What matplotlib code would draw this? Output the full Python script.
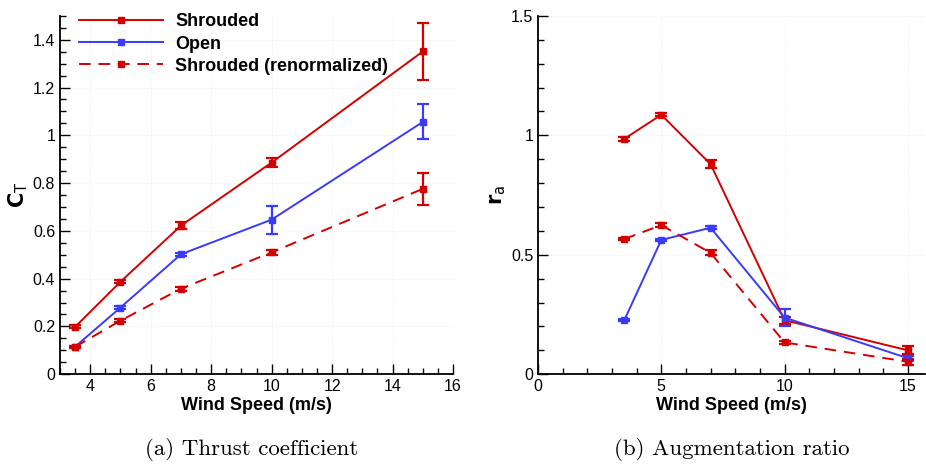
import numpy as np
import matplotlib
matplotlib.use('Agg')
import matplotlib.pyplot as plt
from matplotlib.lines import Line2D
from matplotlib.ticker import MultipleLocator, FuncFormatter

plt.rcParams['font.family'] = ['Liberation Sans', 'DejaVu Sans']

# wind speeds
ws = [3.5, 5, 7, 10, 15]

# (a) thrust coefficient
ct_shroud = [0.198, 0.387, 0.622, 0.886, 1.351]
ct_shroud_err = [0.006, 0.007, 0.013, 0.018, 0.118]
ct_open = [0.115, 0.279, 0.502, 0.647, 1.056]
ct_open_err = [0.005, 0.008, 0.007, 0.059, 0.073]
ct_renorm = [0.115, 0.224, 0.358, 0.510, 0.776]
ct_renorm_err = [0.005, 0.006, 0.009, 0.011, 0.067]

# (b) augmentation ratio
ra_shroud = [0.985, 1.086, 0.879, 0.226, 0.100]
ra_shroud_err = [0.008, 0.007, 0.017, 0.015, 0.017]
ra_open = [0.226, 0.562, 0.613, 0.237, 0.067]
ra_open_err = [0.005, 0.006, 0.006, 0.037, 0.010]
ra_renorm = [0.566, 0.624, 0.508, 0.133, 0.052]
ra_renorm_err = [0.006, 0.007, 0.010, 0.008, 0.012]

labels = ['Shrouded', 'Open', 'Shrouded (renormalized)']

red = '#d40000'
blue = '#3a3aff'

fig = plt.figure(figsize=(9.26, 4.66), dpi=100)
ax1 = fig.add_axes([0.0648, 0.197, 0.4245, 0.769])
ax2 = fig.add_axes([0.581, 0.197, 0.418, 0.769])


def series(ax, x, y, e, color, ls):
    ax.errorbar(x, y, yerr=e, color=color, ls=ls, lw=1.4, marker='s', ms=5,
                capsize=4.5, capthick=1.6, elinewidth=1.6,
                dashes=(6, 4) if ls == '--' else (None, None))


def style(ax):
    for s in ['top', 'right']:
        ax.spines[s].set_visible(False)
    for s in ['left', 'bottom']:
        ax.spines[s].set_linewidth(1.3)
    ax.tick_params(which='both', direction='in', labelsize=11.5, width=1.0)
    ax.tick_params(which='major', length=7)
    ax.tick_params(which='minor', length=4)
    ax.yaxis.set_major_formatter(FuncFormatter(lambda v, p: '%g' % round(v, 3)))
    ax.grid(True, which='major', color='#ececec', ls=':', lw=0.6)
    ax.set_axisbelow(True)
    ax.set_xlabel('Wind Speed (m/s)', fontsize=13, fontweight='bold', labelpad=2)


series(ax1, ws, ct_shroud, ct_shroud_err, red, '-')
series(ax1, ws, ct_open, ct_open_err, blue, '-')
series(ax1, ws, ct_renorm, ct_renorm_err, red, '--')
ax1.set_xlim(3, 16)
ax1.set_ylim(0, 1.5)
ax1.xaxis.set_major_locator(MultipleLocator(2))
ax1.xaxis.set_minor_locator(MultipleLocator(0.5))
ax1.yaxis.set_major_locator(MultipleLocator(0.2))
ax1.yaxis.set_minor_locator(MultipleLocator(0.05))
style(ax1)
ax1.set_ylabel(r'$\mathbf{C}_\mathsf{T}$', fontsize=15, math_fontfamily='dejavusans', labelpad=2)

handles = [Line2D([], [], color=red, lw=1.4, marker='s', ms=5),
           Line2D([], [], color=blue, lw=1.4, marker='s', ms=5),
           Line2D([], [], color=red, lw=1.4, marker='s', ms=5, ls='--', dashes=(6, 4))]
ax1.legend(handles, labels, loc='upper left', bbox_to_anchor=(0.006, 1.052), frameon=False,
           handlelength=4.65, handletextpad=0.7, labelspacing=0.28,
           prop={'weight': 'bold', 'size': 13})

series(ax2, ws, ra_shroud, ra_shroud_err, red, '-')
series(ax2, ws, ra_open, ra_open_err, blue, '-')
series(ax2, ws, ra_renorm, ra_renorm_err, red, '--')
ax2.set_xlim(0, 15.7)
ax2.set_ylim(0, 1.5)
ax2.xaxis.set_major_locator(MultipleLocator(5))
ax2.xaxis.set_minor_locator(MultipleLocator(1))
ax2.yaxis.set_major_locator(MultipleLocator(0.5))
ax2.yaxis.set_minor_locator(MultipleLocator(0.1))
style(ax2)
ax2.set_ylabel(r'$\mathbf{r}_\mathsf{a}$', fontsize=15, math_fontfamily='dejavusans', labelpad=2)

fig.text(0.272, 0.024, '(a) Thrust coefficient', ha='center', va='baseline',
         fontsize=16.5, family='cmr10')
fig.text(0.790, 0.024, '(b) Augmentation ratio', ha='center', va='baseline',
         fontsize=16.5, family='cmr10')

fig.savefig('out.png', dpi=100)
